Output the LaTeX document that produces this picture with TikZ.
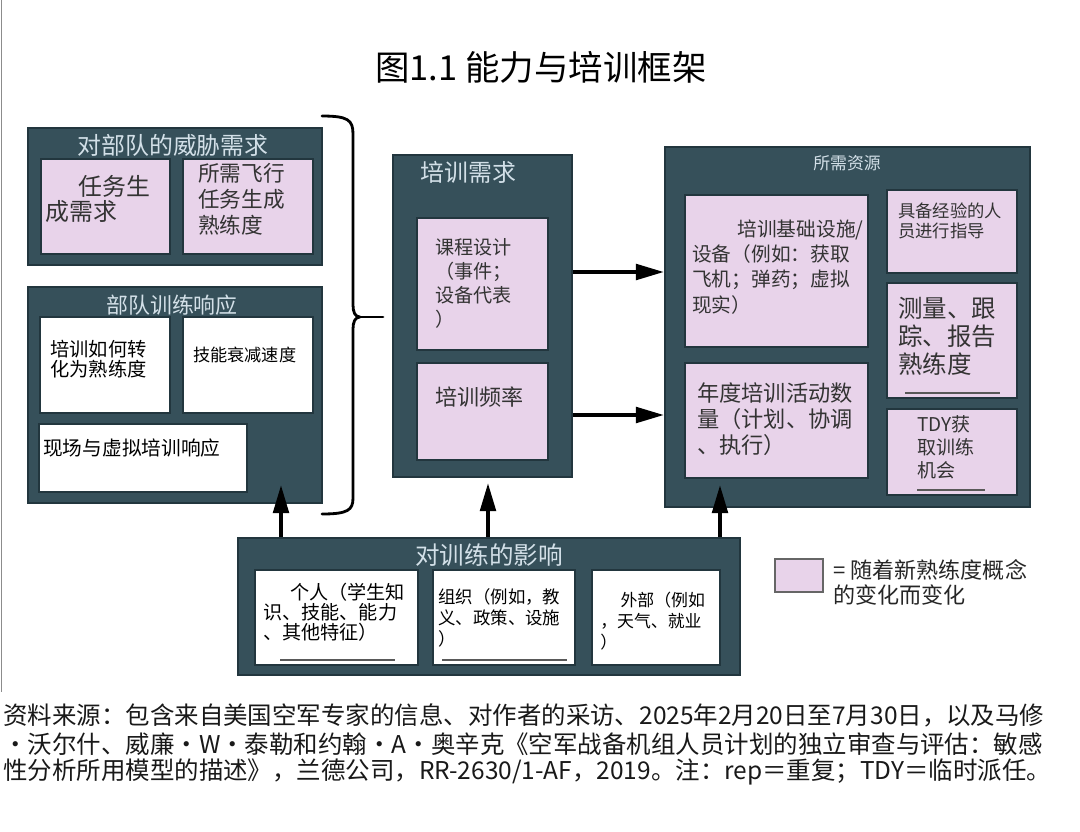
\documentclass[tikz,border=0pt]{standalone}
\usepackage{fontspec}
\setmainfont{Noto Sans CJK SC}
\usetikzlibrary{fit,arrows.meta}

\definecolor{panelfill}{HTML}{36505A}
\definecolor{paneledge}{HTML}{22363E}
\definecolor{pinkfill}{HTML}{E8D3EA}
\definecolor{paneltext}{HTML}{D3E0E8}
\definecolor{inktext}{HTML}{333333}
\newcommand\setfs[2]{\fontsize{#1}{#2}\selectfont}

\tikzset{
  panel/.style={draw=paneledge,fill=panelfill,line width=1.6pt,inner sep=0pt},
  pinkbox/.style={draw=paneledge,fill=pinkfill,line width=1.2pt,inner sep=0pt},
  whitebox/.style={draw=paneledge,fill=white,line width=1.2pt,inner sep=0pt},
  paneltitle/.style={text=paneltext,inner sep=0pt},
  boxtext/.style={anchor=north west,align=left,inner sep=0pt,text=inktext},
  srcline/.style={anchor=west,inner sep=0pt,font=\setfs{17.4}{20},text=black!90},
  flowarrow/.style={line width=2.8pt,-{Triangle[length=20pt,width=11pt]}},
  bracepen/.style={line width=2pt,line cap=round,line join=round},
  smudge/.style={line width=1.2pt,draw=black!65}
}

\begin{document}
\begin{tikzpicture}[x=0.025cm,y=-0.025cm]
  \fill[white] (0,0) rectangle (1080,831);
  \useasboundingbox (0,0) rectangle (1080,831);
  \draw[black!45,line width=1.2pt] (1.5,0) -- (1.5,692);

  % title
  \node[font=\setfs{24.5}{28}] (figtitle) at (541,67) {图1.1 能力与培训框架};

  % threat panel
  \node[panel,fit={(28,128) (322,265)}] (threat) {};
  \node[paneltitle,font=\setfs{17}{19}] (threat-t) at (173,145) {对部队的威胁需求};
  \node[pinkbox,fit={(41,159) (170,254)}] (mission) {};
  \node[pinkbox,fit={(183,159) (313,254)}] (sortie) {};
  \node[boxtext,font=\setfs{17}{17.8}] (mission-t) at (45,175) {\hspace*{1.4em}任务生\\成需求};
  \node[boxtext,font=\setfs{15.4}{18.5}] (sortie-t) at (198,163) {所需飞行\\任务生成\\熟练度};

  % unit response panel
  \node[panel,fit={(28,287) (322,503)}] (unitresp) {};
  \node[paneltitle,font=\setfs{15.6}{18}] (unitresp-t) at (172,305) {部队训练响应};
  \node[whitebox,fit={(40,317) (170,413)}] (convert) {};
  \node[whitebox,fit={(183,317) (313,413)}] (decay) {};
  \node[whitebox,fit={(39,424) (247,492)}] (liveresp) {};
  \node[boxtext,font=\setfs{13.7}{14.3},text=black] (convert-t) at (50,340) {培训如何转\\化为熟练度};
  \node[boxtext,font=\setfs{12.2}{14},text=black] (decay-t) at (193,347) {技能衰减速度};
  \node[boxtext,font=\setfs{14}{16},text=black] (liveresp-t) at (43,439) {现场与虚拟培训响应};

  % brace
  \coordinate (bracetip) at (383,317);
  \draw[bracepen] (322,116) .. controls (348,116) and (353,120) .. (353,134)
    -- (353,305) .. controls (353,312) and (355,317) .. (360,317)
    .. controls (355,317) and (353,322) .. (353,329)
    -- (353,498) .. controls (353,510) and (348,514) .. (322,514);
  \draw[bracepen] (360,317) -- (bracetip);

  % training requirements panel
  \node[panel,fit={(393,155) (572,477)}] (trainreq) {};
  \node[paneltitle,font=\setfs{17}{19},anchor=west] (trainreq-t) at (420,172) {培训需求};
  \node[pinkbox,fit={(417,218) (548,350)}] (syllabus) {};
  \node[pinkbox,fit={(417,363) (548,460)}] (freq) {};
  \node[boxtext,font=\setfs{13.6}{17}] (syllabus-t) at (435,238) {课程设计\\（事件；\\设备代表\\）};
  \node[boxtext,font=\setfs{15.7}{18}] (freq-t) at (435,387) {培训频率};

  % resources panel
  \node[panel,fit={(665,147) (1030,507)}] (resources) {};
  \node[paneltitle,font=\setfs{12}{14}] (resources-t) at (847,163) {所需资源};
  \node[pinkbox,fit={(685,195) (868,347)}] (infra) {};
  \node[pinkbox,fit={(685,363) (868,478)}] (events) {};
  \node[pinkbox,fit={(887,190) (1017,273)}] (mentor) {};
  \node[pinkbox,fit={(887,283) (1017,398)}] (measure) {};
  \node[pinkbox,fit={(887,409) (1017,495)}] (tdy) {};
  \node[boxtext,font=\setfs{14}{17.8}] (infra-t) at (692,220) {\hspace*{2.3em}培训基础设施/\\设备（例如：获取\\飞机；弹药；虚拟\\现实）};
  \node[boxtext,font=\setfs{15.8}{18.5}] (events-t) at (697,382) {年度培训活动数\\量（计划、协调\\、执行）};
  \node[boxtext,font=\setfs{12.3}{14.2}] (mentor-t) at (898,203) {具备经验的人\\员进行指导};
  \node[boxtext,font=\setfs{17.4}{20}] (measure-t) at (898,297) {测量、跟\\踪、报告\\熟练度};
  \node[boxtext,font=\setfs{13.5}{16.4}] (tdy-t) at (917,415) {TDY获\\取训练\\机会};
  \draw[smudge] (905,393) -- (1000,393);
  \draw[smudge] (917,490) -- (985,490);

  % influences panel
  \node[panel,fit={(238,538) (740,675)}] (impact) {};
  \node[paneltitle,font=\setfs{17.5}{19}] (impact-t) at (489,555) {对训练的影响};
  \node[whitebox,fit={(255,570) (418,665)}] (person) {};
  \node[whitebox,fit={(433,570) (575,665)}] (organ) {};
  \node[whitebox,fit={(592,570) (720,665)}] (extern) {};
  \node[boxtext,font=\setfs{13.6}{14},text=black] (person-t) at (263,583) {\hspace*{1.4em}个人（学生知\\识、技能、能力\\、其他特征）};
  \node[boxtext,font=\setfs{12.4}{15},text=black] (organ-t) at (438,588) {组织（例如，教\\义、政策、设施\\）};
  \node[boxtext,font=\setfs{12}{15},text=black] (extern-t) at (600,592) {\hspace*{1.2em}外部（例如\\，天气、就业\\）};
  \draw[smudge] (280,660) -- (395,660);
  \draw[smudge] (442,660) -- (567,660);

  % arrows
  \coordinate (upA) at (281,485);
  \coordinate (upB) at (488,483);
  \coordinate (upC) at (720,485);
  \draw[flowarrow] (impact.north -| upA) -- (upA);
  \draw[flowarrow] (impact.north -| upB) -- (upB);
  \draw[flowarrow] (impact.north -| upC) -- (upC);
  \coordinate (rightA) at (664,272);
  \coordinate (rightB) at (664,415);
  \draw[flowarrow] (trainreq.east |- rightA) -- (rightA);
  \draw[flowarrow] (trainreq.east |- rightB) -- (rightB);

  % legend
  \node[pinkbox,draw=black!60,line width=1.5pt,fit={(775,559) (823,592)}] (legendkey) {};
  \node[boxtext,font=\setfs{15.7}{17.8},text=black!85] (legendtxt) at (833,559) {= 随着新熟练度概念\\的变化而变化};

  % source note
  \node[srcline] (src1) at (3,715) {资料来源：包含来自美国空军专家的信息、对作者的采访、2025年2月20日至7月30日，以及马修};
  \node[srcline] (src2) at (3,744) {·沃尔什、威廉·W·泰勒和约翰·A·奥辛克《空军战备机组人员计划的独立审查与评估：敏感};
  \node[srcline] (src3) at (3,772) {性分析所用模型的描述》，兰德公司，RR-2630/1-AF，2019。注：rep＝重复；TDY＝临时派任。};
\end{tikzpicture}
\end{document}
